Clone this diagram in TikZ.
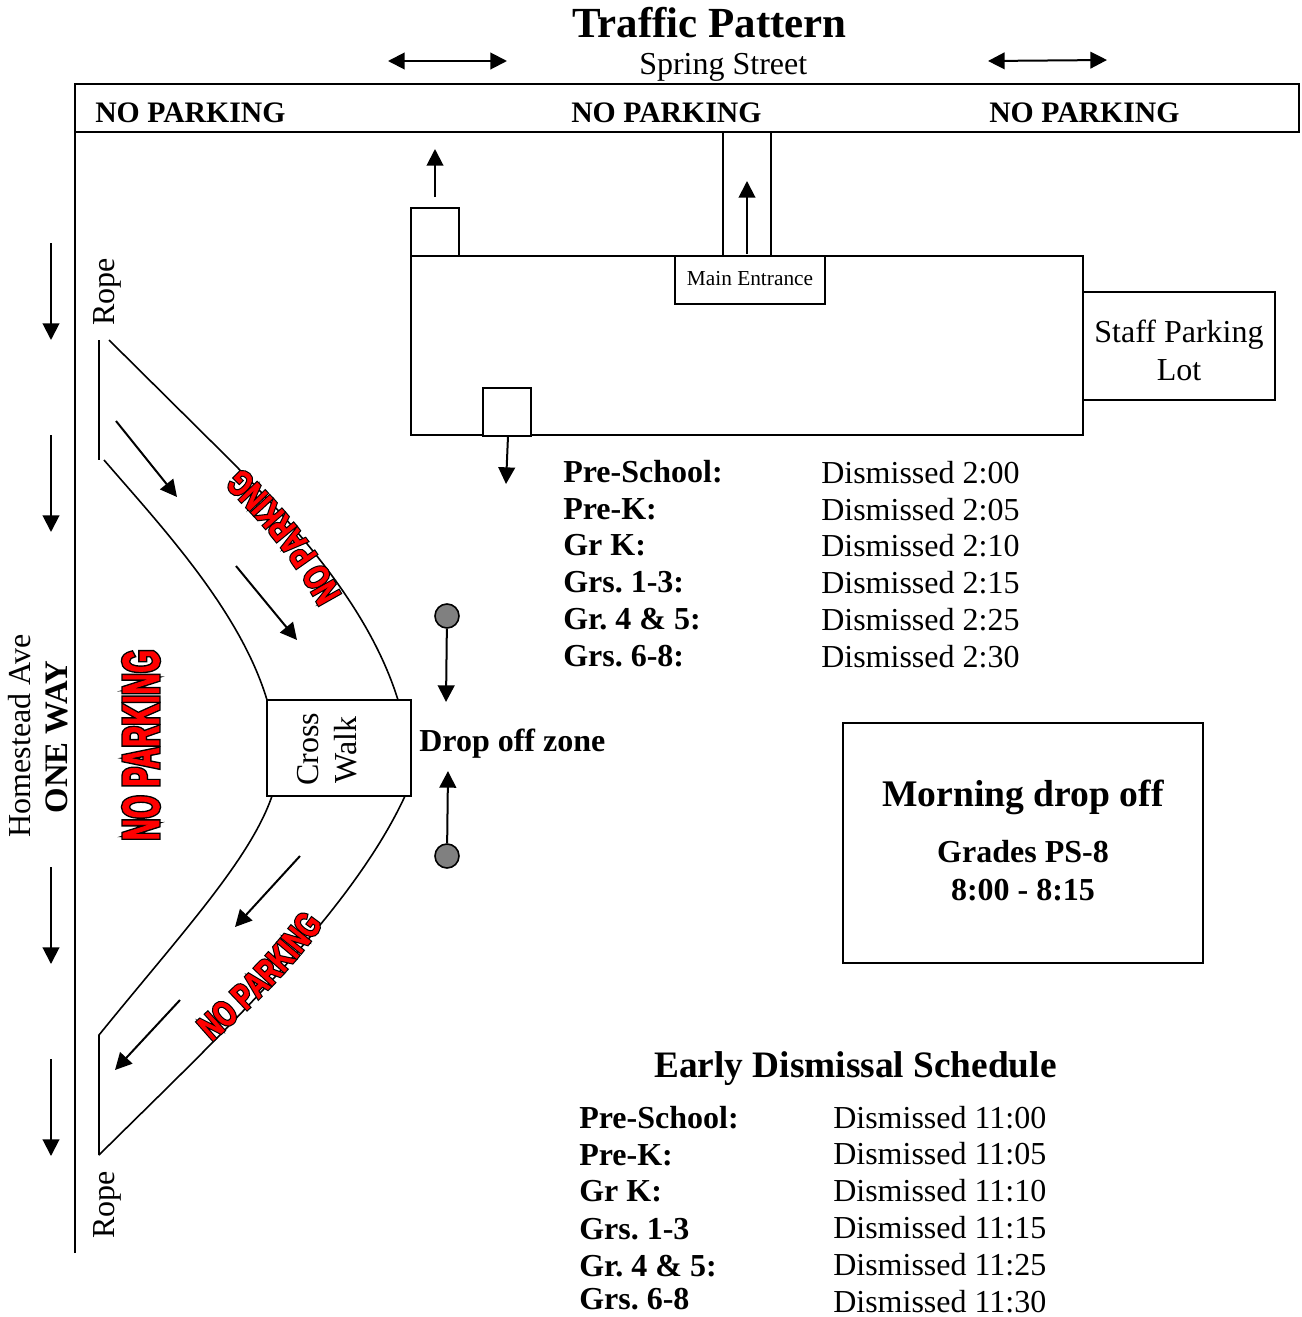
\documentclass[tikz,border=0pt]{standalone}
\usepackage{fontspec}
\setmainfont{Liberation Serif}
\newfontfamily\wafill[FakeStretch=0.56,LetterSpace=1.5,RawFeature={embolden=1.5}]{Liberation Sans Bold}
\newfontfamily\waline[FakeStretch=0.56,LetterSpace=1.5,RawFeature={embolden=7}]{Liberation Sans Bold}
\newfontfamily\wafillb[FakeStretch=0.7,LetterSpace=2.5,RawFeature={embolden=1.5}]{Liberation Sans Bold}
\newfontfamily\walineb[FakeStretch=0.7,LetterSpace=2.5,RawFeature={embolden=8}]{Liberation Sans Bold}
\usetikzlibrary{arrows.meta,decorations.text}
\newcommand\wRed{\wafillb\fontsize{27}{30}\selectfont\color{red}}
\newcommand\wBlk{\walineb\fontsize{27}{30}\selectfont\color{black}}
\tikzset{
  ln/.style={line width=1.2pt,draw=black},
  arr/.style={line width=1.5pt,draw=black,-{Triangle[length=12.5pt,width=12.5pt]}},
  darr/.style={line width=1.5pt,draw=black,{Triangle[length=12.5pt,width=12.5pt]}-{Triangle[length=12.5pt,width=12.5pt]}},
  boxw/.style={ln,fill=white},
  t/.style={inner sep=0pt,anchor=base west,font=\fontsize{24}{24}\selectfont},
  tb/.style={t,font=\fontsize{24}{24}\selectfont\bfseries},
  np/.style={t,font=\fontsize{22.3}{24}\selectfont\bfseries},
  tr/.style={t,anchor=base,rotate=90},
  post/.style={ln,fill=black!50,circle,minimum size=18pt,inner sep=0pt},
  wtxt/.style={decorate,decoration={text along path,text align=center,text={#1}}}
}
\begin{document}
\frenchspacing
\begin{tikzpicture}[x=0.75pt,y=-0.75pt]
\useasboundingbox (0,0) rectangle (1302,1317);
% street
\draw[ln] (75,1253) -- (75,84) -- (1299,84) -- (1299,132) -- (75,132);
\node[t,anchor=base,font=\fontsize{32.2}{32}\selectfont\bfseries] (title) at (709.5,37) {Traffic Pattern};
\node[t] (spring) at (639,74) {Spring Street};
\node[np] (np1) at (95,122) {NO PARKING};
\node[np] (np2) at (571,122) {NO PARKING};
\node[np] (np3) at (989,122) {NO PARKING};
\draw[darr] (388,61) -- (507,61);
\draw[darr] (988,61) -- (1107,60);
% building
\draw[ln] (723,132) -- (723,256) (771,132) -- (771,256);
\draw[ln] (411,256) rectangle (1083,435);
\draw[ln] (411,208) rectangle (459,256);
\draw[boxw] (483,388) rectangle (531,436);
\draw[boxw] (675,256) rectangle (825,304);
\node[t,anchor=base,font=\fontsize{16}{16}\selectfont] (main) at (750,285) {Main Entrance};
\draw[boxw] (1083,292) rectangle (1275,400);
\node[t,anchor=base] (staff1) at (1179,342) {Staff Parking};
\node[t,anchor=base] (staff2) at (1179,380) {Lot};
\draw[arr] (435,197) -- (435,149);
\draw[arr] (747,254) -- (747,181);
\draw[arr] (508,436) -- (506,484);
% left side
\node[tr] (home) at (31,736) {Homestead Ave};
\node[tr,font=\fontsize{24.6}{24}\selectfont\bfseries] (oneway) at (67,737) {ONE WAY};
\draw[arr] (51,243) -- (51,340);
\draw[arr] (51,435) -- (51,532);
\draw[arr] (51,867) -- (51,964);
\draw[arr] (51,1059) -- (51,1156);
\node[tr] (rope1) at (114,292) {Rope};
\node[tr] (rope2) at (114,1205) {Rope};
% road
\draw[ln] (99,340) -- (99,460);
\draw[ln] (109,340) -- (225,455) .. controls (300,530) and (370,610) .. (398,700);
\draw[ln] (104,460) .. controls (160,525) and (240,610) .. (267,700);
\draw[ln] (272,796) .. controls (250,860) and (180,935) .. (99,1035) -- (99,1155);
\draw[ln] (99,1155) .. controls (215,1040) and (350,915) .. (405,796);
\draw[ln] (267,700) rectangle (411,796);
\node[tr] (cross) at (318,749) {Cross};
\node[tr] (walk) at (356,750) {Walk};
\draw[arr] (116,421) -- (177,497);
\draw[arr] (236,566) -- (297,640);
\draw[arr] (300,856) -- (235,927);
\draw[arr] (180,1000) -- (115,1070);
% wordart
\path[wtxt={|\wBlk|NO PARKING}] (345,602) .. controls (318,550) and (285,508) .. (236,462);
\path[wtxt={|\wRed|NO PARKING}] (345,602) .. controls (318,550) and (285,508) .. (236,462);
\path[wtxt={|\wBlk|NO PARKING}] (208,1045) .. controls (250,1008) and (290,972) .. (326,920);
\path[wtxt={|\wRed|NO PARKING}] (208,1045) .. controls (250,1008) and (290,972) .. (326,920);
\node[inner sep=0pt,rotate=90,text=black,font=\waline\fontsize{39}{39}\selectfont] (wa3) at (141,745) {NO PARKING};
\node[inner sep=0pt,rotate=90,text=red,font=\wafill\fontsize{39}{39}\selectfont] (wa3b) at (141,745) {NO PARKING};
% drop off
\node[post] (p1) at (447,616) {};
\node[post] (p2) at (447,856) {};
\draw[arr] (p1) -- (446,702);
\draw[arr] (p2) -- (448,771);
\node[tb] (drop) at (419,751) {Drop off zone};
% schedule
\foreach \n/\l/\y in {a/Pre-School:/482,b/Pre-K:/519,c/Gr K:/555,d/Grs. 1-3:/592,e/Gr. 4 \& 5:/629,f/Grs. 6-8:/666}
  \node[tb] (s\n) at (563,\y) {\l};
\foreach \n/\l/\y in {a/2:00/483,b/2:05/520,c/2:10/556,d/2:15/593,e/2:25/630,f/2:30/667}
  \node[t] (r\n) at (821,\y) {Dismissed \l};
% morning
\draw[ln] (843,723) rectangle (1203,963);
\node[t,anchor=base,font=\fontsize{28.2}{28}\selectfont\bfseries] (morn) at (1023,806) {Morning drop off};
\node[t,anchor=base,font=\fontsize{24}{24}\selectfont\bfseries] (gr) at (1023,862) {Grades PS-8};
\node[t,anchor=base,font=\fontsize{24}{24}\selectfont\bfseries] (tm) at (1023,900) {8:00 - 8:15};
% early
\node[t,font=\fontsize{28}{28}\selectfont\bfseries] (early) at (654,1077) {Early Dismissal Schedule};
\foreach \n/\l/\y in {a/Pre-School:/1128,b/Pre-K:/1165,c/Gr K:/1201,d/Grs. 1-3/1239,e/Gr. 4 \& 5:/1276,f/Grs. 6-8/1309}
  \node[tb] (es\n) at (579,\y) {\l};
\foreach \n/\l/\y in {a/11:00/1128,b/11:05/1164,c/11:10/1201,d/11:15/1238,e/11:25/1275,f/11:30/1312}
  \node[t] (er\n) at (833,\y) {Dismissed \l};
\end{tikzpicture}
\end{document}
